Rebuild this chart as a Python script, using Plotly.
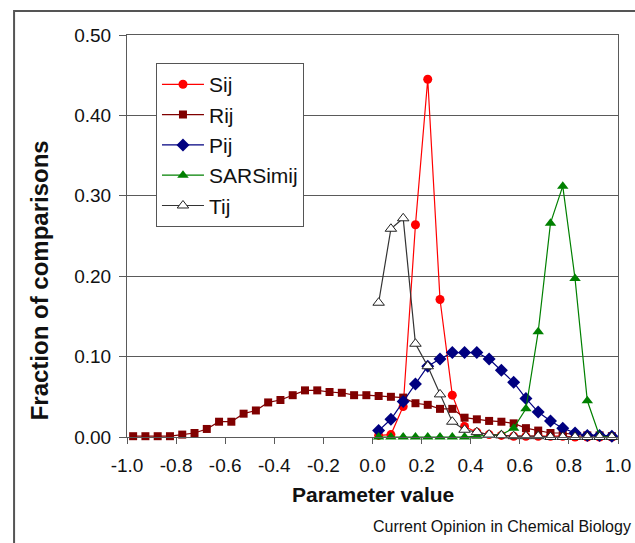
import plotly.graph_objects as go

# Bin centres (parameter value)
rij_x = [-0.975, -0.925, -0.875, -0.825, -0.775, -0.725, -0.675, -0.625, -0.575, -0.525,
         -0.475, -0.425, -0.375, -0.325, -0.275, -0.225, -0.175, -0.125, -0.075, -0.025,
         0.025, 0.075, 0.125, 0.175, 0.225, 0.275, 0.325, 0.375, 0.425, 0.475,
         0.525, 0.575, 0.625, 0.675, 0.725, 0.775, 0.825, 0.875, 0.925, 0.975]
pos_x = [0.025, 0.075, 0.125, 0.175, 0.225, 0.275, 0.325, 0.375, 0.425, 0.475,
         0.525, 0.575, 0.625, 0.675, 0.725, 0.775, 0.825, 0.875, 0.925, 0.975]

sij = [0.002, 0.003, 0.038, 0.264, 0.445, 0.171, 0.052, 0.013, 0.006, 0.003,
       0.002, 0.001, 0.001, 0.001, 0.001, 0.001, 0.0, 0.0, 0.0, 0.0]
rij = [0.001, 0.001, 0.001, 0.001, 0.003, 0.005, 0.010, 0.019, 0.019, 0.029,
       0.033, 0.043, 0.046, 0.052, 0.058, 0.058, 0.056, 0.055, 0.052, 0.052,
       0.051, 0.050, 0.049, 0.042, 0.040, 0.035, 0.035, 0.024, 0.022, 0.020,
       0.019, 0.017, 0.011, 0.008, 0.005, 0.005, 0.003, 0.002, 0.002, 0.001]
pij = [0.008, 0.022, 0.044, 0.066, 0.088, 0.097, 0.105, 0.105, 0.105, 0.097,
       0.083, 0.068, 0.048, 0.031, 0.020, 0.011, 0.005, 0.002, 0.002, 0.001]
sars = [0.0, 0.0, 0.0, 0.0, 0.0, 0.0, 0.0, 0.0, 0.001, 0.002,
        0.003, 0.011, 0.035, 0.131, 0.266, 0.312, 0.197, 0.045, 0.001, 0.0]
tij = [0.167, 0.259, 0.272, 0.116, 0.088, 0.053, 0.019, 0.009, 0.006, 0.003,
       0.002, 0.001, 0.001, 0.001, 0.0, 0.0, 0.0, 0.0, 0.0, 0.0]

x_ticks = [-1.0, -0.8, -0.6, -0.4, -0.2, 0.0, 0.2, 0.4, 0.6, 0.8, 1.0]
x_tick_text = ["-1.0", "-0.8", "-0.6", "-0.4", "-0.2", "0.0", "0.2", "0.4", "0.6", "0.8", "1.0"]
y_ticks = [0.0, 0.1, 0.2, 0.3, 0.4, 0.5]
y_tick_text = ["0.00", "0.10", "0.20", "0.30", "0.40", "0.50"]

FONT = "Liberation Sans, Arial, sans-serif"
GRID = "#5a5a5a"

fig = go.Figure()

series = [
    ("Sij", pos_x, sij, "#FF0000", dict(symbol="circle", size=9, color="#FF0000")),
    ("Rij", rij_x, rij, "#800000", dict(symbol="square", size=8, color="#800000")),
    ("Pij", pos_x, pij, "#000080", dict(symbol="diamond", size=10, color="#000080")),
    ("SARSimij", pos_x, sars, "#008000", dict(symbol="triangle-up", size=10, color="#008000")),
    ("Tij", pos_x, tij, "#333333", dict(symbol="triangle-up", size=10, color="white",
                                        line=dict(color="#222222", width=1))),
]
for name, xs, ys, col, mk in series:
    fig.add_trace(go.Scatter(x=xs, y=ys, name=name, legendgroup=name,
                             mode="lines+markers", line=dict(color=col, width=1.2),
                             marker=mk, cliponaxis=False))

fig.update_layout(
    width=635, height=543,
    margin=dict(l=127, r=17, t=35, b=106, autoexpand=False),
    paper_bgcolor="white", plot_bgcolor="white",
    font=dict(family=FONT, color="#111111", size=19),
    showlegend=True,
    legend=dict(x=0.059, y=0.93, xanchor="left", yanchor="top",
                bordercolor="#555555", borderwidth=1, bgcolor="white",
                font=dict(size=21, family=FONT), traceorder="grouped",
                tracegroupgap=0, itemwidth=42),
    xaxis=dict(range=[-1.0, 1.0], tickvals=x_ticks, ticktext=x_tick_text,
               ticks="outside", ticklen=6, tickcolor=GRID, showgrid=False,
               showline=True, linecolor=GRID, linewidth=1, mirror=True,
               zeroline=False, tickfont=dict(size=19), automargin=False,
               ticklabelstandoff=5),
    yaxis=dict(range=[0, 0.5], tickvals=y_ticks, ticktext=y_tick_text,
               ticks="outside", ticklen=7, tickcolor=GRID, showgrid=True,
               gridcolor=GRID, gridwidth=1, showline=True, linecolor=GRID,
               linewidth=1, mirror=True, zeroline=False, tickfont=dict(size=19),
               ticklabelstandoff=4, automargin=False),
    shapes=[dict(type="rect", xref="paper", yref="paper", x0=-0.230, x1=1.1,
                 y0=-0.4, y1=1.0597, line=dict(color="#555555", width=2),
                 fillcolor="rgba(0,0,0,0)", layer="below")],
    annotations=[
        dict(text="<b>Parameter value</b>", xref="paper", yref="paper",
             x=0.501, y=-0.1418, xanchor="center", yanchor="middle", showarrow=False,
             font=dict(size=21, family=FONT, color="#111111")),
        dict(text="<b>Fraction of comparisons</b>", xref="paper", yref="paper",
             x=-0.179, y=0.39, xanchor="center", yanchor="middle", showarrow=False,
             textangle=-90, font=dict(size=24, family=FONT, color="#111111")),
        dict(text="Current Opinion in Chemical Biology", xref="paper", yref="paper",
             x=1.03, y=-0.222, xanchor="right", yanchor="middle", showarrow=False,
             font=dict(size=16, family=FONT, color="#111111")),
    ],
)

fig.write_html("out.html")
